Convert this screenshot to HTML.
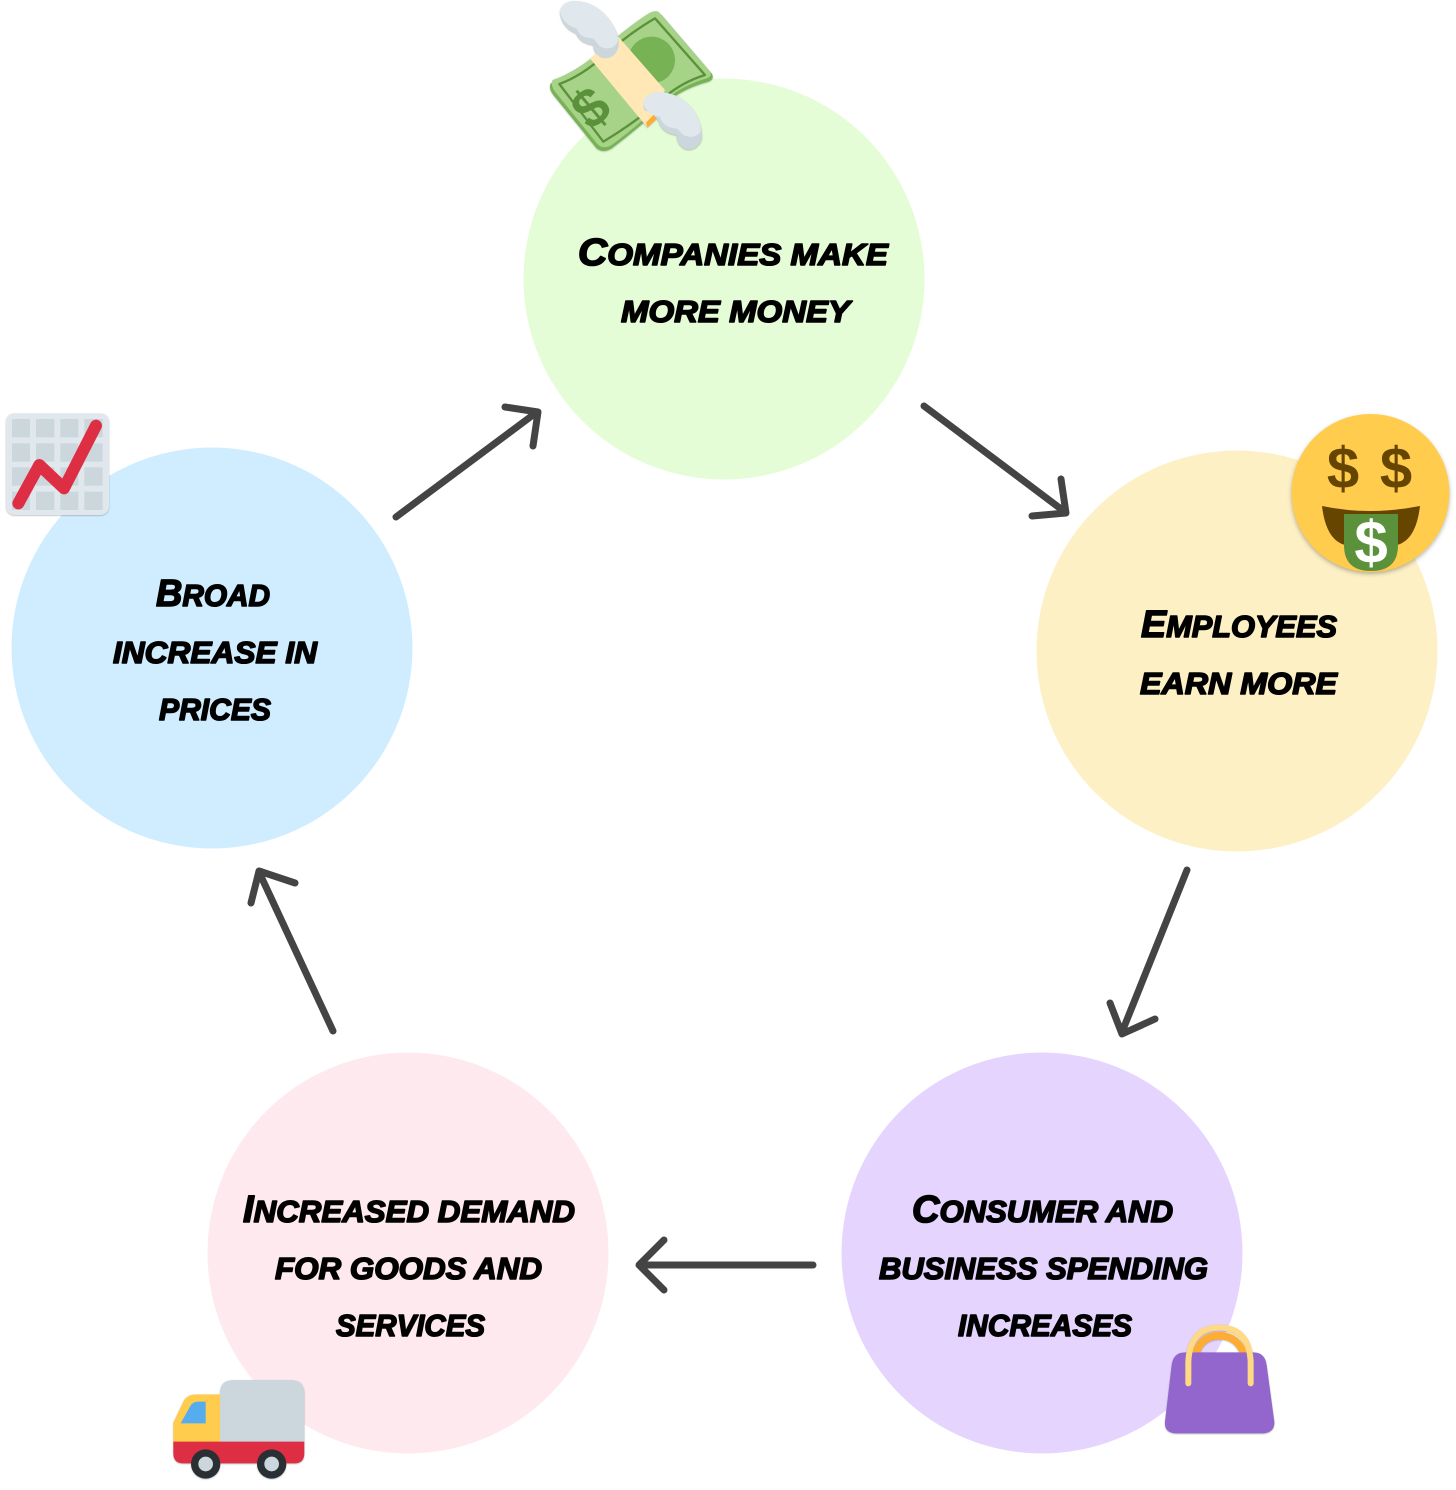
<!DOCTYPE html>
<html><head><meta charset="utf-8"><style>
html,body{margin:0;padding:0;background:#fff}
svg{display:block}
.t{font-family:"Liberation Sans",sans-serif;font-weight:700;font-style:italic;font-size:31px;text-transform:uppercase;fill:#000;stroke:#000;stroke-width:1.6px;stroke-linejoin:round}
.b{font-size:38px}
.a{fill:none;stroke:#444;stroke-width:7;stroke-linecap:round;stroke-linejoin:round}
.i{filter:drop-shadow(0 2px 2px rgba(0,0,0,.28))}
.d{font-family:"Liberation Sans",sans-serif;font-weight:700;text-anchor:middle}
</style></head><body>
<svg width="1456" height="1490" viewBox="0 0 1456 1490" xmlns="http://www.w3.org/2000/svg">
<rect width="1456" height="1490" fill="#fff"/>
<circle cx="724" cy="279" r="200.500" fill="#e4fdd6"/>
<circle cx="1237" cy="651" r="200.500" fill="#fef0c5"/>
<circle cx="1042" cy="1253" r="200.500" fill="#e5d5fe"/>
<circle cx="408" cy="1253" r="200.500" fill="#fee9ee"/>
<circle cx="212" cy="648" r="200.500" fill="#d0edff"/>

<path class="a" d="M396 517L537 412M505 407L538 412L533 446"/>
<path class="a" d="M924 406L1065 512M1032 516L1066 513L1061 479"/>
<path class="a" d="M1187 870L1122 1032M1110 1003L1122 1034L1155 1019"/>
<path class="a" d="M813 1265L639 1265M664 1240L639 1265L664 1290"/>
<path class="a" d="M333 1031L259 872M251 903L259 871L295 883"/>

<text class="t" x="578" y="265" textLength="310" lengthAdjust="spacingAndGlyphs"><tspan class="b">C</tspan>ompanies make</text>
<text class="t" x="621" y="322" textLength="229" lengthAdjust="spacingAndGlyphs">more money</text>
<text class="t" x="1141" y="637" textLength="196" lengthAdjust="spacingAndGlyphs"><tspan class="b">E</tspan>mployees</text>
<text class="t" x="1140" y="694" textLength="197" lengthAdjust="spacingAndGlyphs">earn more</text>
<text class="t" x="912" y="1222" textLength="261" lengthAdjust="spacingAndGlyphs"><tspan class="b">C</tspan>onsumer and</text>
<text class="t" x="879" y="1279" textLength="329" lengthAdjust="spacingAndGlyphs">business spending</text>
<text class="t" x="958" y="1336" textLength="174" lengthAdjust="spacingAndGlyphs">increases</text>
<text class="t" x="243" y="1222" textLength="332" lengthAdjust="spacingAndGlyphs"><tspan class="b">I</tspan>ncreased demand</text>
<text class="t" x="275" y="1279" textLength="267" lengthAdjust="spacingAndGlyphs">for goods and</text>
<text class="t" x="336" y="1336" textLength="149" lengthAdjust="spacingAndGlyphs">services</text>
<text class="t" x="156" y="606" textLength="114" lengthAdjust="spacingAndGlyphs"><tspan class="b">B</tspan>road</text>
<text class="t" x="113" y="663" textLength="204" lengthAdjust="spacingAndGlyphs">increase in</text>
<text class="t" x="159" y="720" textLength="112" lengthAdjust="spacingAndGlyphs">prices</text>

<!-- money -->
<g class="i" transform="translate(540,0) scale(.3333)">
<path d="M32 250Q110 225 190 155Q270 85 330 45Q350 32 365 45L515 220Q525 238 505 245Q430 265 375 310Q290 390 215 445Q190 460 170 445L40 285Q25 265 32 250Z" fill="#77b255"/>
<path d="M38 240Q110 215 190 145Q270 75 330 38Q350 28 360 40L510 215Q518 228 500 235Q430 255 375 300Q290 380 215 435Q190 450 172 432L45 275Q30 255 38 240Z" fill="#a6d388"/>
<path d="M58 252Q125 228 195 165Q275 95 345 55L495 225Q430 245 375 290Q290 365 190 425Z" fill="none" stroke="#5c913b" stroke-width="7" stroke-linejoin="round"/>
<circle cx="335" cy="180" r="70" fill="#77b255"/>
<text class="d" transform="translate(188,366) rotate(-40)" font-size="165" fill="#5c913b">$</text>
<path d="M150 175L235 110L375 270L322 382Z" fill="#ffe8b6"/>
<path d="M322 382L362 345L355 330L318 368Z" fill="#ffac33"/>
<path d="M60 40Q62 5 105 3Q165 5 205 55Q240 100 236 140Q225 178 190 175Q160 165 160 135Q120 130 108 100Q68 85 60 40Z" fill="#ccd6dd"/>
<path d="M60 35Q65 5 105 3Q165 5 205 55Q238 100 232 128Q215 155 180 140Q160 115 160 115Q120 115 110 85Q70 75 60 35Z" fill="#e1e8ed"/>
<path d="M310 310Q315 278 355 276Q420 278 460 330Q490 375 485 420Q470 452 440 448Q412 440 410 405Q370 400 358 370Q350 345 312 330Z" fill="#ccd6dd"/>
<path d="M310 310Q315 278 355 276Q420 278 460 330Q485 370 482 395Q465 420 430 405Q410 385 410 385Q370 385 360 350Q320 345 310 310Z" fill="#e1e8ed"/>
</g>

<!-- face -->
<g class="i">
<circle cx="1370.500" cy="493" r="79" fill="#ffcc4d"/>
<text class="d" x="1343" y="488" font-size="58" fill="#664500">$</text>
<text class="d" x="1396" y="488" font-size="58" fill="#664500">$</text>
<path d="M1322 506Q1370 516 1420 506Q1416 540 1397 545L1345 545Q1326 540 1322 506Z" fill="#664500"/>
<path d="M1344 514L1398 514L1398 545Q1398 571 1371 571Q1344 571 1344 545Z" fill="#5c913b"/>
<text class="d" x="1371" y="563" font-size="60" fill="#fff">$</text>
</g>

<!-- chart -->
<g class="i" transform="translate(0,405) scale(.3333)">
<rect x="18" y="25" width="309" height="305" rx="25" fill="#e1e8ed"/>
<g fill="#ccd6dd">
<rect x="36" y="42" width="54" height="55"/><rect x="108" y="42" width="55" height="55"/><rect x="181" y="42" width="54" height="55"/><rect x="253" y="42" width="55" height="55"/>
<rect x="36" y="115" width="54" height="55"/><rect x="108" y="115" width="55" height="55"/><rect x="181" y="115" width="54" height="55"/><rect x="253" y="115" width="55" height="55"/>
<rect x="36" y="187" width="54" height="55"/><rect x="108" y="187" width="55" height="55"/><rect x="181" y="187" width="54" height="55"/><rect x="253" y="187" width="55" height="55"/>
<rect x="36" y="260" width="54" height="55"/><rect x="108" y="260" width="55" height="55"/><rect x="181" y="260" width="54" height="55"/><rect x="253" y="260" width="55" height="55"/>
</g>
<path d="M55 295L118 180L192 250L288 62" fill="none" stroke="#dd2e44" stroke-width="36" stroke-linecap="round" stroke-linejoin="round"/>
</g>

<!-- truck -->
<g class="i" transform="translate(160,1370) scale(.3333)">
<path d="M180 70Q180 30 220 30H393Q433 30 433 70V220H180Z" fill="#ccd6dd"/>
<path d="M40 158L70 95Q80 73 110 73H180V220H40Z" fill="#ffcc4d"/>
<path d="M62 160L90 110Q97 95 115 95H137V160Z" fill="#55acee"/>
<path d="M40 215H433V250Q433 280 403 280H70Q40 280 40 250Z" fill="#dd2e44"/>
<circle cx="137" cy="282" r="44" fill="#292f33"/><circle cx="137" cy="282" r="22" fill="#ccd6dd"/>
<circle cx="335" cy="282" r="44" fill="#292f33"/><circle cx="335" cy="282" r="22" fill="#ccd6dd"/>
</g>

<!-- bag -->
<g class="i" transform="translate(1150,1315) scale(.3333)">
<path d="M135 125Q150 62 208 62Q265 62 285 125" fill="none" stroke="#ffac33" stroke-width="22"/>
<path d="M105 112H310Q345 112 350 150L373 320Q375 352 340 355H75Q42 352 45 320L65 150Q70 112 105 112Z" fill="#9266cc"/>
<path d="M115 205V140Q120 38 208 38Q297 38 302 140V205" fill="none" stroke="#ffd983" stroke-width="18" stroke-linecap="round"/>
</g>
</svg>
</body></html>
